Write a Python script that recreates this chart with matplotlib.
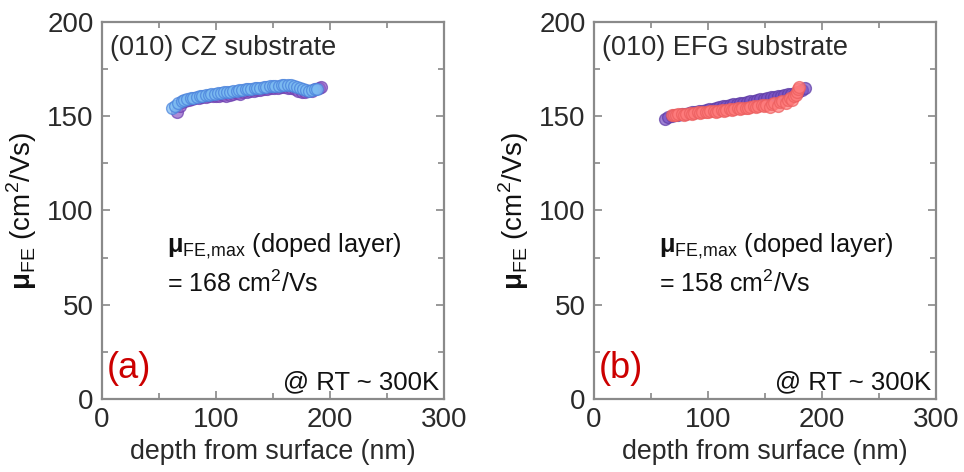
import matplotlib.pyplot as plt
from matplotlib.ticker import MultipleLocator

plt.rcParams['font.family'] = ['Liberation Sans', 'DejaVu Sans']
plt.rcParams['mathtext.fontset'] = 'custom'
plt.rcParams['mathtext.rm'] = 'Liberation Sans'
plt.rcParams['mathtext.bf'] = 'Liberation Sans:bold'

# (a) CZ substrate
cz_x_purple = [66, 68, 70, 73, 76, 79, 82, 85, 88, 91, 94, 97, 100, 103, 106, 109, 112, 115,
               118, 121, 124, 127, 130, 133, 136, 139, 142, 145, 148, 151, 154, 157, 160,
               163, 166, 169, 172, 175, 178, 181, 184, 187, 190, 192]
cz_y_purple = [152.0, 155.5, 157.5, 158.2, 158.8, 159.0, 159.5, 159.8, 160.2, 160.0, 160.5, 160.8,
               161.0, 160.6, 161.2, 161.0, 161.5, 161.8, 162.2, 162.0, 162.6, 163.0, 163.2, 163.5,
               163.8, 164.0, 164.3, 164.6, 165.0, 165.2, 165.0, 165.4, 165.5, 165.0, 164.8, 164.2,
               163.6, 163.0, 162.8, 163.2, 163.6, 164.2, 164.8, 165.4]
cz_x_blue = [61, 64, 67, 70, 72, 75, 78, 80, 83, 86, 88, 91, 94, 96, 99, 102, 104, 107, 110,
             112, 115, 118, 120, 123, 126, 128, 131, 134, 136, 139, 142, 144, 147, 150, 152,
             155, 158, 160, 163, 166, 168, 171, 174, 176, 179, 182, 184, 187, 189]
cz_y_blue = [154.4, 155.5, 157.0, 158.2, 158.8, 159.2, 159.6, 159.8, 160.3, 160.6, 160.8, 161.2,
             161.5, 161.7, 162.0, 162.2, 162.4, 162.6, 162.9, 163.1, 163.3, 163.5, 163.8, 164.0,
             164.2, 164.4, 164.6, 164.8, 165.0, 165.2, 165.4, 165.6, 165.8, 166.0, 166.2, 166.3,
             166.5, 166.6, 166.7, 166.5, 166.0, 165.5, 165.0, 164.5, 164.0, 163.6, 163.8, 164.2,
             164.6]

# (b) EFG substrate
efg_x_purple = [62, 65, 68, 71, 74, 77, 80, 83, 86, 89, 92, 95, 98, 101, 104, 107, 110, 113,
                116, 119, 122, 125, 128, 131, 134, 137, 140, 143, 146, 149, 152, 155, 158,
                161, 164, 167, 170, 173, 176, 179, 182, 185]
efg_y_purple = [148.8, 149.4, 150.0, 150.4, 150.6, 151.0, 151.3, 151.6, 152.0, 152.3, 152.6, 153.0,
                153.3, 153.7, 154.0, 154.5, 154.9, 155.3, 155.6, 156.0, 156.3, 156.6, 156.9, 157.2,
                157.5, 157.9, 158.2, 158.6, 159.0, 159.3, 159.6, 160.0, 160.3, 160.6, 161.0, 161.3,
                161.7, 162.0, 162.5, 163.0, 164.0, 165.0]
efg_x_red = [68, 70, 72, 74, 77, 79, 81, 84, 86, 88, 91, 93, 95, 98, 100, 102, 105, 107, 109,
             112, 114, 116, 119, 121, 123, 126, 128, 130, 133, 135, 137, 140, 142, 144, 147,
             149, 151, 154, 156, 158, 161, 163, 165, 168, 170, 172, 174, 175, 177, 178, 179, 180]
efg_y_red = [150.5, 150.8, 150.6, 151.0, 151.2, 150.9, 151.4, 151.5, 151.3, 151.8, 152.0, 151.7,
             152.2, 152.4, 152.1, 152.6, 152.8, 152.5, 153.0, 153.2, 152.9, 153.4, 153.6, 153.3,
             154.0, 154.2, 153.8, 154.4, 154.6, 154.3, 155.0, 155.2, 154.7, 155.4, 155.8, 155.2,
             156.2, 155.0, 156.5, 157.0, 155.5, 157.5, 158.0, 156.8, 158.5, 159.5, 158.8, 160.5,
             161.5, 163.0, 164.2, 165.5]

panels = [
    dict(label='(a)', title='(010) CZ substrate', value='= 168 cm$^2$/Vs',
         series=[(cz_x_purple, cz_y_purple, '#9060c8', '#6e40b0'),
                 (cz_x_blue, cz_y_blue, '#7cbcf2', '#4a82dc')]),
    dict(label='(b)', title='(010) EFG substrate', value='= 158 cm$^2$/Vs',
         series=[(efg_x_purple, efg_y_purple, '#7a52c4', '#5e3ca6'),
                 (efg_x_red, efg_y_red, '#ff7c7c', '#ec5e5e')]),
]

fig = plt.figure(figsize=(9.64, 4.72), dpi=100)
lefts = [0.1058, 0.6162]
txt = '#2a2a2a'

for left, p in zip(lefts, panels):
    ax = fig.add_axes([left, 0.1547, 0.3548, 0.7987])
    for xs, ys, fc, ec in p['series']:
        ax.plot(xs, ys, 'o', ms=8.5, mfc=fc, mec=ec, mew=1.0, alpha=0.72, ls='none')
    ax.set_xlim(0, 300)
    ax.set_ylim(0, 200)
    ax.xaxis.set_major_locator(MultipleLocator(100))
    ax.xaxis.set_minor_locator(MultipleLocator(50))
    ax.yaxis.set_major_locator(MultipleLocator(50))
    ax.yaxis.set_minor_locator(MultipleLocator(25))
    ax.tick_params(which='both', direction='in', top=True, right=True,
                   color='#888888', width=1.2, labelsize=20, labelcolor=txt)
    ax.tick_params(which='major', length=6, pad=6)
    ax.tick_params(which='minor', length=4)
    for s in ax.spines.values():
        s.set_color('#8a8a8a')
        s.set_linewidth(1.6)
    ax.set_xlabel('depth from surface (nm)', fontsize=19.3, color=txt, labelpad=4)
    ax.set_ylabel(r'$\mathbf{μ}_{\mathrm{FE}}$ (cm$^2$/Vs)', fontsize=20, color='#111111', labelpad=6)
    ax.text(7, 186, p['title'], fontsize=19.5, color=txt, va='center')
    ax.text(57, 81, r'$\mathbf{μ}_{\mathrm{FE{,}max}}$ (doped layer)', fontsize=18.3, color='#111111', va='center')
    ax.text(57, 61, p['value'], fontsize=18, color='#111111', va='center')
    ax.text(4, 16, p['label'], fontsize=26, color='#cc0000', va='center')
    ax.text(296, 9, '@ RT ~ 300K', fontsize=18.5, color='#111111', ha='right', va='center')

fig.savefig('out.png', dpi=100)
